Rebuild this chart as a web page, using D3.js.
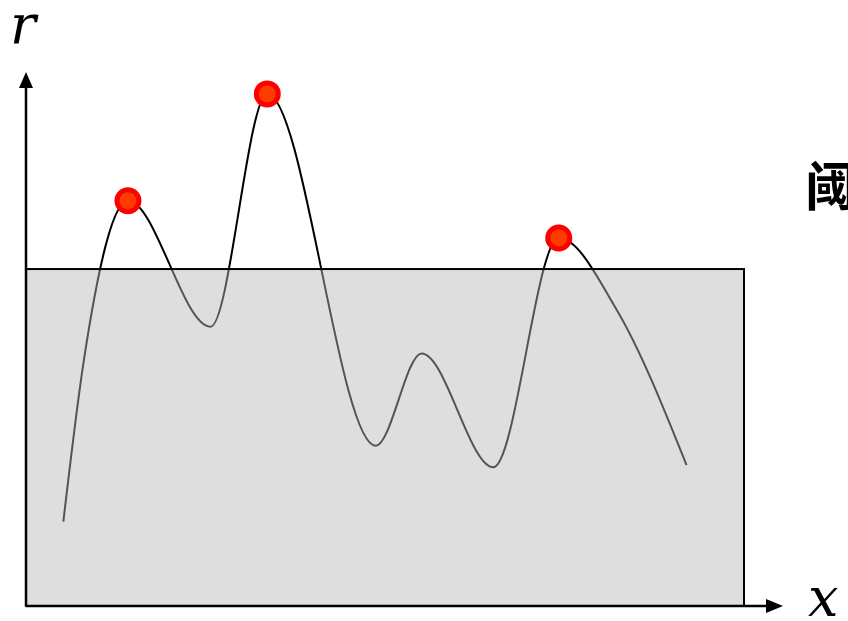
<!DOCTYPE html>
<html>
<head>
<meta charset="utf-8">
<script src="https://cdn.jsdelivr.net/npm/d3@7"></script>
<style>
  html, body { margin: 0; padding: 0; background: #fff; }
  svg { display: block; }
</style>
</head>
<body>
<svg id="chart" width="848" height="621"></svg>
<script>
// Points (x, r) on the signal curve: turning points plus a few slope points
const xs = [0.52, 0.80, 1.42, 2.57, 3.36, 4.87, 5.51, 6.51, 7.42, 8.23, 9.20];
const rs = [1.58, 4.55, 7.59, 5.23, 9.59, 3.00, 4.73, 2.60, 6.89, 5.54, 2.64];
// Threshold level and the extent of the band under it
const threshold = 6.31;
const bandX = [0, 10];
const axisLabels = ["r", "x"];
const thresholdLabel = "阈值";

const svg = d3.select("#chart");
const x = d3.scaleLinear().domain([0, 10]).range([26, 744]);
const y = d3.scaleLinear().domain([0, 10]).range([606, 72]);

const pts = xs.map((v, i) => ({ x: v, r: rs[i] }));

// the curve
const line = d3.line().x(d => x(d.x)).y(d => y(d.r)).curve(d3.curveMonotoneX);
svg.append("path")
  .datum(pts)
  .attr("d", line)
  .attr("fill", "none")
  .attr("stroke", "#000")
  .attr("stroke-width", 2);

// translucent band below the threshold (dims the curve inside it)
svg.append("rect")
  .attr("x", x(bandX[0]))
  .attr("y", y(threshold))
  .attr("width", x(bandX[1]) - x(bandX[0]))
  .attr("height", y(0) - y(threshold))
  .attr("fill", "rgb(184,184,184)")
  .attr("fill-opacity", 0.46)
  .attr("stroke", "#000")
  .attr("stroke-width", 2);

// axes with arrowheads
const x0 = x(0), y0 = y(0);
const yTop = y(10), xEnd = 783;
svg.append("line").attr("x1", x0).attr("y1", y0).attr("x2", x0).attr("y2", yTop + 14)
  .attr("stroke", "#000").attr("stroke-width", 2.5);
svg.append("line").attr("x1", x0).attr("y1", y0).attr("x2", xEnd - 16).attr("y2", y0)
  .attr("stroke", "#000").attr("stroke-width", 2.5);
svg.append("path")
  .attr("d", `M${x0},${yTop} L${x0 - 7},${yTop + 16} L${x0 + 7},${yTop + 16} Z`)
  .attr("fill", "#000");
svg.append("path")
  .attr("d", `M${xEnd},${y0} L${xEnd - 17},${y0 - 7} L${xEnd - 17},${y0 + 7} Z`)
  .attr("fill", "#000");

// peaks above the threshold
const peaks = pts.filter((d, i) => i > 0 && i < pts.length - 1 &&
  d.r > threshold && d.r >= pts[i - 1].r && d.r >= pts[i + 1].r);
svg.selectAll("circle.peak")
  .data(peaks)
  .join("circle")
  .attr("class", "peak")
  .attr("cx", d => x(d.x))
  .attr("cy", d => y(d.r))
  .attr("r", 11)
  .attr("fill", "#ff3c00")
  .attr("stroke", "#ff0000")
  .attr("stroke-width", 5);

// labels
svg.append("text")
  .attr("x", 10).attr("y", 43)
  .attr("font-family", "'DejaVu Serif', serif")
  .attr("font-style", "italic")
  .attr("font-size", 54)
  .text(axisLabels[0]);
svg.append("text")
  .attr("x", 808).attr("y", 616)
  .attr("font-family", "'DejaVu Serif', serif")
  .attr("font-style", "italic")
  .attr("font-size", 54)
  .text(axisLabels[1]);
svg.append("text")
  .attr("x", 805).attr("y", 206)
  .attr("font-family", "'Noto Sans CJK SC', sans-serif")
  .attr("font-weight", "bold")
  .attr("font-size", 52)
  .text(thresholdLabel);
</script>
</body>
</html>
